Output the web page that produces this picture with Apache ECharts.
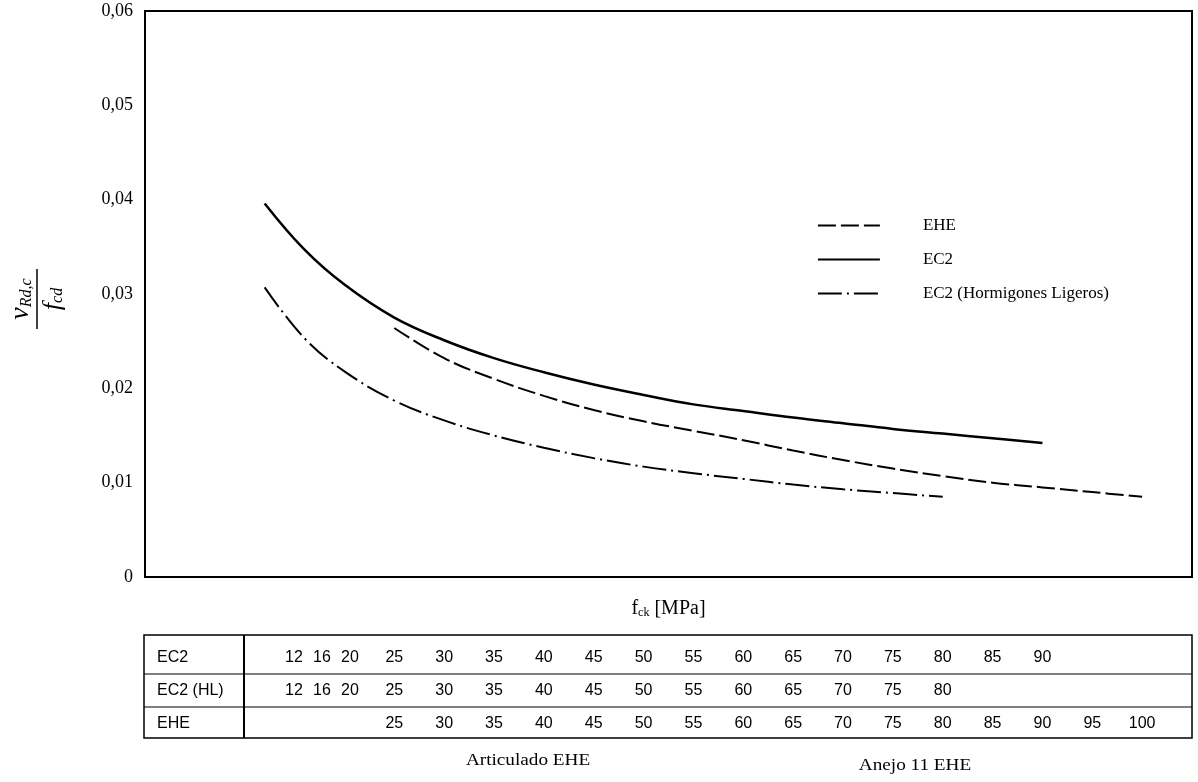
<!DOCTYPE html>
<html><head><meta charset="utf-8">
<script src="https://cdn.jsdelivr.net/npm/echarts@6/dist/echarts.min.js"></script>
<style>html,body{margin:0;padding:0;background:#fff}#c{width:1198px;height:782px}</style>
</head><body><div id="c"></div>
<script>
// fck values (MPa) and v_Rd,c / f_cd
const fckEC2 = [12,16,20,25,30,35,40,45,50,55,60,65,70,75,80,85,90];
const valEC2 = [0.0396,0.0347,0.0310,0.0275,0.0251,0.0232,0.0217,0.0204,0.0193,0.0183,0.0176,0.0169,0.0163,0.0157,0.0152,0.0147,0.0142];
const fckHL = [12,16,20,25,30,35,40,45,50,55,60,65,70,75,80];
const valHL = [0.0307,0.0253,0.0218,0.0187,0.0166,0.0150,0.0137,0.0126,0.0117,0.0110,0.0104,0.0098,0.0093,0.0089,0.0085];
const fckEHE = [25,30,35,40,45,50,55,60,65,70,75,80,85,90,95,100];
const valEHE = [0.0264,0.0232,0.0210,0.0192,0.0177,0.0165,0.0155,0.0145,0.0134,0.0124,0.0115,0.0107,0.0100,0.0095,0.0090,0.0085];
const seriesNames = ['EHE','EC2','EC2 (Hormigones Ligeros)'];
const tableRowNames = ['EC2','EC2 (HL)','EHE'];
const tableRowValues = [fckEC2, fckHL, fckEHE];
const tableNotes = ['Articulado EHE','Anejo 11 EHE'];

const SERIF = 'Liberation Serif, Times New Roman, serif';
const SANS = 'Liberation Sans, Arial, sans-serif';
const zip = (xs, ys) => xs.map((x, i) => [x, ys[i]]);

const chart = echarts.init(document.getElementById('c'), null, {renderer: 'canvas'});
chart.setOption({
  animation: false,
  backgroundColor: '#fff',
  grid: {left: 145, right: 6, top: 11, bottom: 205, show: true, borderColor: '#000', borderWidth: 2, backgroundColor: 'transparent'},
  xAxis: {
    type: 'value', min: 0, max: 105,
    axisLine: {show: true, lineStyle: {color: '#000', width: 2}},
    axisTick: {show: false}, axisLabel: {show: false}, splitLine: {show: false},
    name: '{f|f}{s|ck}{f| [MPa]}', nameLocation: 'middle', nameGap: 18,
    nameTextStyle: {rich: {
      f: {fontFamily: SERIF, fontSize: 20, color: '#000', lineHeight: 24, verticalAlign: 'bottom'},
      s: {fontFamily: SERIF, fontSize: 12, color: '#000', lineHeight: 12, verticalAlign: 'bottom'}
    }}
  },
  yAxis: {
    type: 'value', min: 0, max: 0.06, interval: 0.01,
    axisLine: {show: true, lineStyle: {color: '#000', width: 2}},
    axisTick: {show: false}, splitLine: {show: false},
    axisLabel: {margin: 12, color: '#000', fontFamily: SERIF, fontSize: 18,
      formatter: v => v === 0 ? '0' : v.toFixed(2).replace('.', ',')}
  },
  legend: {
    data: seriesNames, orient: 'vertical', left: 812, top: 212,
    itemWidth: 62, itemHeight: 14, itemGap: 17,
    itemStyle: {opacity: 0, color: 'rgba(0,0,0,0)', borderWidth: 0},
    lineStyle: {width: 1.8},
    textStyle: {fontFamily: SERIF, fontSize: 17, color: '#000', padding: [0, 0, 0, 38]}
  },
  series: [
    {name: 'EHE', type: 'line', data: zip(fckEHE, valEHE), smooth: 0.4, symbol: 'none',
      lineStyle: {color: '#000', width: 2, type: [18, 5]}, itemStyle: {color: '#000'}},
    {name: 'EC2', type: 'line', data: zip(fckEC2, valEC2), smooth: 0.4, symbol: 'none',
      lineStyle: {color: '#000', width: 2.5, type: 'solid'}, itemStyle: {color: '#000'}},
    {name: 'EC2 (Hormigones Ligeros)', type: 'line', data: zip(fckHL, valHL), smooth: 0.4, symbol: 'none',
      lineStyle: {color: '#000', width: 2, type: [24, 5, 2, 5]}, itemStyle: {color: '#000'}}
  ]
});

// Y axis title (fraction), rotated
const yTitle = {
  type: 'group', x: 37, y: 299, rotation: Math.PI / 2,
  children: [
    {type: 'line', shape: {x1: -30, y1: 0, x2: 30, y2: 0}, style: {stroke: '#000', lineWidth: 1.5}},
    {type: 'text', x: 0, y: -2, style: {
      text: '{v|v}{s|Rd,c}', align: 'center', verticalAlign: 'bottom',
      rich: {
        v: {fontFamily: SERIF, fontStyle: 'italic', fontSize: 28, fill: '#000', lineHeight: 28, verticalAlign: 'bottom'},
        s: {fontFamily: SERIF, fontStyle: 'italic', fontSize: 16, fill: '#000', lineHeight: 16, verticalAlign: 'bottom'}
      }}},
    {type: 'text', x: 0, y: 3, style: {
      text: '{v|f}{s|cd}', align: 'center', verticalAlign: 'top',
      rich: {
        v: {fontFamily: SERIF, fontStyle: 'italic', fontSize: 26, fill: '#000', lineHeight: 26, verticalAlign: 'bottom'},
        s: {fontFamily: SERIF, fontStyle: 'italic', fontSize: 16, fill: '#000', lineHeight: 16, verticalAlign: 'bottom'}
      }}}
  ]
};

// Table under the chart
const tblL = 144, tblR = 1192, tblT = 635, tblB = 738, divX = 244;
const rowLines = [674, 707];
const rowTextY = [658, 691, 724];
const compressedColX = {12: 294, 16: 322, 20: 350};
const colX = f => (compressedColX[f] !== undefined ? compressedColX[f] : chart.convertToPixel({xAxisIndex: 0}, f));
const tbl = [];
tbl.push({type: 'rect', shape: {x: tblL, y: tblT, width: tblR - tblL, height: tblB - tblT}, style: {fill: 'none', stroke: '#000', lineWidth: 1.5}});
tbl.push({type: 'line', shape: {x1: divX, y1: tblT, x2: divX, y2: tblB}, style: {stroke: '#000', lineWidth: 2}});
rowLines.forEach(y => tbl.push({type: 'line', shape: {x1: tblL, y1: y, x2: tblR, y2: y}, style: {stroke: '#000', lineWidth: 1.2}}));
tableRowNames.forEach((n, r) => {
  tbl.push({type: 'text', x: 157, y: rowTextY[r], style: {text: n, fontFamily: SANS, fontSize: 16, fill: '#000', align: 'left', verticalAlign: 'middle'}});
  tableRowValues[r].forEach(f => {
    tbl.push({type: 'text', x: colX(f), y: rowTextY[r], style: {text: String(f), fontFamily: SANS, fontSize: 16, fill: '#000', align: 'center', verticalAlign: 'middle'}});
  });
});
tbl.push({type: 'text', x: 528, y: 761, scaleX: 1.2, style: {text: tableNotes[0], fontFamily: SERIF, fontSize: 16, fill: '#000', align: 'center', verticalAlign: 'middle'}});
tbl.push({type: 'text', x: 915, y: 766, scaleX: 1.2, style: {text: tableNotes[1], fontFamily: SERIF, fontSize: 16, fill: '#000', align: 'center', verticalAlign: 'middle'}});

chart.setOption({graphic: {elements: [yTitle].concat(tbl)}});
</script></body></html>
